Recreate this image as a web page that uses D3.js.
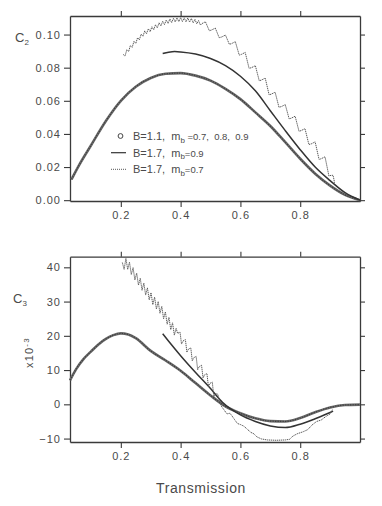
<!DOCTYPE html>
<html><head><meta charset="utf-8">
<script src="https://cdn.jsdelivr.net/npm/d3@7"></script>
<style>
html,body{margin:0;padding:0;background:#fff;}
svg{display:block;}
text{font-family:"Liberation Sans",Arial,sans-serif;fill:#4a4a4a;}
.tick text{font-size:11px;letter-spacing:1px;}
</style></head><body>
<svg id="chart" width="382" height="506"></svg>
<script>
// ---------- data ----------
const xTicks = [0.2, 0.4, 0.6, 0.8];
const c2Ticks = [0.00, 0.02, 0.04, 0.06, 0.08, 0.10];
const c3Ticks = [-10, 0, 10, 20, 30, 40];

// C2, B=1.1 (circles)
const c2CircX = [0.035,0.06,0.10,0.15,0.20,0.25,0.30,0.35,0.40,0.45,0.50,0.55,0.60,0.65,0.70,0.75,0.80,0.85,0.90,0.95,1.00];
const c2CircY = [0.0125,0.021,0.033,0.0478,0.0600,0.0685,0.0738,0.0763,0.0767,0.0752,0.0722,0.0672,0.0610,0.0530,0.0448,0.0350,0.0250,0.0160,0.0088,0.0032,0.0];
// C2, B=1.7 mb=0.9 (solid)
const c2SolX = [0.34,0.36,0.38,0.40,0.45,0.50,0.55,0.60,0.65,0.70,0.75,0.80,0.85,0.90,0.95,1.00];
const c2SolY = [0.0885,0.0893,0.0897,0.0895,0.0882,0.0855,0.0812,0.0748,0.0660,0.0540,0.0420,0.0305,0.0200,0.0118,0.0045,0.0];
// C2, B=1.7 mb=0.7 (dotted, oscillating)
const c2DotX = [0.208,0.214,0.220,0.226,0.232,0.238,0.244,0.250,0.256,0.262,0.268,0.274,0.280,0.286,0.292,0.298,0.304,0.310,0.316,0.322,0.328,0.334,0.340,0.346,0.352,0.358,0.364,0.370,0.376,0.382,0.388,0.394,0.400,0.406,0.412,0.418,0.424,0.430,0.436,0.442,0.448,0.454,0.460,0.466,
  0.470,0.483,0.496,0.503,0.516,0.529,0.537,0.550,0.563,0.570,0.583,0.596,0.603,0.616,0.629,0.637,0.650,0.663,0.670,0.683,0.696,0.703,0.716,0.729,0.737,0.750,0.763,0.770,0.783,0.796,0.803,0.816,0.829,0.837,0.850,0.863,0.870,0.883,0.896,0.903,0.910,0.915];
const c2DotY = [0.0880,0.0870,0.0908,0.0897,0.0934,0.0923,0.0959,0.0946,0.0981,0.0968,0.1003,0.0989,0.1022,0.1005,0.1035,0.1017,0.1047,0.1029,0.1059,0.1041,0.1071,0.1052,0.1080,0.1060,0.1088,0.1067,0.1094,0.1072,0.1098,0.1076,0.1101,0.1078,0.1102,0.1078,0.1101,0.1077,0.1100,0.1075,0.1097,0.1071,0.1092,0.1065,0.1085,0.1057,
  0.1065,0.1077,0.1023,0.1027,0.1039,0.0981,0.0985,0.0997,0.0941,0.0945,0.0957,0.0876,0.0880,0.0892,0.0796,0.0800,0.0812,0.0721,0.0725,0.0737,0.0636,0.0640,0.0652,0.0561,0.0565,0.0577,0.0491,0.0495,0.0507,0.0416,0.0420,0.0432,0.0336,0.0340,0.0352,0.0246,0.0250,0.0262,0.0146,0.0150,0.0150,0.0105];

// C3 (x10^-3), B=1.1 (circles)
const c3CircX = [0.03,0.05,0.075,0.10,0.125,0.15,0.175,0.20,0.225,0.25,0.30,0.35,0.40,0.45,0.50,0.55,0.60,0.65,0.70,0.75,0.80,0.85,0.90,0.95,1.00];
const c3CircY = [7.0,10.2,13.2,15.4,17.5,19.1,20.2,20.7,20.4,19.3,15.6,12.8,9.8,6.2,2.6,-0.6,-2.6,-4.1,-4.9,-5.0,-4.0,-2.3,-0.9,-0.2,-0.1];
// C3, B=1.7 mb=0.9 (solid)
const c3SolX = [0.34,0.36,0.40,0.45,0.50,0.54,0.60,0.65,0.70,0.75,0.80,0.85,0.90,0.91];
const c3SolY = [20.6,18.4,14.2,9.3,4.6,0.6,-3.1,-5.0,-6.3,-6.8,-5.8,-4.2,-2.4,-2.0];
// C3, B=1.7 mb=0.7 (dotted, oscillating)
const c3DotX = [0.205,0.211,0.217,0.223,0.229,0.235,0.241,0.247,0.253,0.259,0.265,0.271,0.277,0.283,0.289,0.295,0.301,0.307,0.313,0.319,0.325,0.331,0.337,0.343,0.349,0.355,0.361,0.367,0.373,0.379,0.385,
  0.390,0.398,0.403,0.408,0.416,0.421,0.426,0.434,0.439,0.444,0.452,0.457,0.462,0.470,0.475,0.480,0.488,0.493,0.498,0.506,0.511,0.516,0.524,0.530,0.536,
  0.545,0.555,0.565,0.572,0.580,0.590,0.600,0.612,0.622,0.635,0.645,0.655,0.670,0.690,0.720,0.750,0.765,0.775,0.790,0.810,0.825,0.840,0.855,0.870,0.885,0.900,0.908];
const c3DotY = [41.4,39.4,42.6,39.4,41.5,37.9,39.9,36.3,38.3,34.8,36.8,33.3,35.4,31.9,34.0,30.5,32.6,29.1,31.3,27.8,30.0,26.6,28.6,25.0,27.0,23.4,25.4,21.8,23.8,20.2,22.2,
  20.7,21.1,17.6,18.5,18.9,15.2,16.1,16.5,12.7,13.6,14.0,10.1,11.0,11.4,7.7,8.6,9.0,5.2,6.1,6.5,2.2,3.1,3.0,1.0,-0.5,
  -1.6,-2.8,-2.6,-3.4,-4.4,-5.6,-5.9,-6.4,-7.2,-8.2,-8.6,-9.5,-10.1,-10.4,-10.5,-10.4,-10.2,-9.3,-8.6,-8.0,-7.4,-6.0,-5.0,-4.6,-3.6,-2.8,-1.5];

// ---------- drawing ----------
const svg = d3.select("#chart");
const xDomain = [0.03, 1.0];
const xRange = [70, 360];

function zip(xs, ys){ return xs.map((x,i)=>[x, ys[i]]); }

function panel(cfg){
  const x = d3.scaleLinear().domain(xDomain).range(xRange);
  const y = d3.scaleLinear().domain(cfg.yDomain).range(cfg.yRange);
  const g = svg.append("g");
  const [yb, yt] = cfg.yRange;

  const axStyle = sel => {
    sel.selectAll("path.domain").attr("stroke","#3a3a3a").attr("stroke-width",1.3);
    sel.selectAll(".tick line").attr("stroke","#3a3a3a").attr("stroke-width",1.1);
  };
  g.append("g").attr("transform",`translate(0,${yb})`)
    .call(d3.axisBottom(x).tickValues(xTicks).tickSize(6).tickSizeOuter(0).tickPadding(4).tickFormat(d3.format(".1f")))
    .call(axStyle);
  g.append("g").attr("transform",`translate(0,${yt})`)
    .call(d3.axisTop(x).tickValues(xTicks).tickSize(5).tickSizeOuter(0).tickFormat(""))
    .call(axStyle);
  g.append("g").attr("transform",`translate(${xRange[0]},0)`)
    .call(d3.axisLeft(y).tickValues(cfg.yTicks).tickSize(6).tickSizeOuter(0).tickPadding(3).tickFormat(cfg.fmt))
    .call(axStyle);
  g.append("g").attr("transform",`translate(${xRange[1]},0)`)
    .call(d3.axisRight(y).tickValues(cfg.yTicks).tickSize(5).tickSizeOuter(0).tickFormat(""))
    .call(axStyle);
  g.selectAll(".tick text").attr("fill","#4a4a4a").attr("font-family","'Liberation Sans', Arial, sans-serif");

  const smooth = d3.line().x(d=>x(d[0])).y(d=>y(d[1])).curve(d3.curveMonotoneX);
  const lin = d3.line().x(d=>x(d[0])).y(d=>y(d[1]));

  g.append("path").attr("d", smooth(zip(cfg.circX, cfg.circY)))
    .attr("fill","none").attr("stroke","#6a6a6a").attr("stroke-width",2.6);
  g.append("path").attr("d", smooth(zip(cfg.circX, cfg.circY)))
    .attr("fill","none").attr("stroke","#3c3c3c").attr("stroke-width",1.2).attr("stroke-dasharray","1.2,1.3");
  g.append("path").attr("d", smooth(zip(cfg.solX, cfg.solY)))
    .attr("fill","none").attr("stroke","#333").attr("stroke-width",1.5);
  g.append("path").attr("d", lin(zip(cfg.dotX, cfg.dotY)))
    .attr("fill","none").attr("stroke","#5a5a5a").attr("stroke-width",1.0).attr("stroke-dasharray","1.3,0.7");
  return {x, y, g};
}

const panelC2 = panel({
  yDomain:[-0.0005, 0.1112], yRange:[201, 16], yTicks:c2Ticks, fmt:d3.format(".2f"),
  circX:c2CircX, circY:c2CircY, solX:c2SolX, solY:c2SolY, dotX:c2DotX, dotY:c2DotY
});
const panelC3 = panel({
  yDomain:[-11, 43.1], yRange:[442, 256.7], yTicks:c3Ticks, fmt:d3.format("d"),
  circX:c3CircX, circY:c3CircY, solX:c3SolX, solY:c3SolY, dotX:c3DotX, dotY:c3DotY
});

// axis titles
const c2Label = svg.append("text").attr("x",15).attr("y",42).attr("font-size",13);
c2Label.append("tspan").text("C");
c2Label.append("tspan").attr("font-size",8).attr("dy",3).text("2");
const c3Label = svg.append("text").attr("x",13).attr("y",303).attr("font-size",13);
c3Label.append("tspan").text("C");
c3Label.append("tspan").attr("font-size",8).attr("dy",3).text("3");
const mult = svg.append("text").attr("transform","translate(33,368) rotate(-90)").attr("font-size",11).attr("letter-spacing",1.2);
mult.append("tspan").text("x10");
mult.append("tspan").attr("font-size",8).attr("dy",-4).text("-3");
svg.append("text").attr("x",201).attr("y",493).attr("text-anchor","middle")
  .attr("font-size",14).attr("letter-spacing",0.6).text("Transmission");

// legend
const lg = svg.append("g");
lg.append("circle").attr("cx",120.5).attr("cy",136).attr("r",2.4).attr("fill","none").attr("stroke","#444").attr("stroke-width",1);
lg.append("line").attr("x1",111).attr("x2",126).attr("y1",152.7).attr("y2",152.7).attr("stroke","#333").attr("stroke-width",1.2);
lg.append("line").attr("x1",111).attr("x2",126).attr("y1",169.3).attr("y2",169.3).attr("stroke","#555").attr("stroke-width",1).attr("stroke-dasharray","1,1");
const legendRows = [
  {y:140, main:"B=1.1,  m", sub:"b", rest:" =0.7,  0.8,  0.9"},
  {y:156.5, main:"B=1.7,  m", sub:"b", rest:"=0.9"},
  {y:173, main:"B=1.7,  m", sub:"b", rest:"=0.7"}
];
legendRows.forEach(r=>{
  const t = lg.append("text").attr("x",133).attr("y",r.y).attr("font-size",11).style("white-space","pre");
  t.append("tspan").text(r.main);
  t.append("tspan").attr("font-size",8).attr("dy",2.5).text(r.sub);
  t.append("tspan").attr("font-size",9.5).attr("dy",-2.5).text(r.rest);
});
</script>
</body></html>
